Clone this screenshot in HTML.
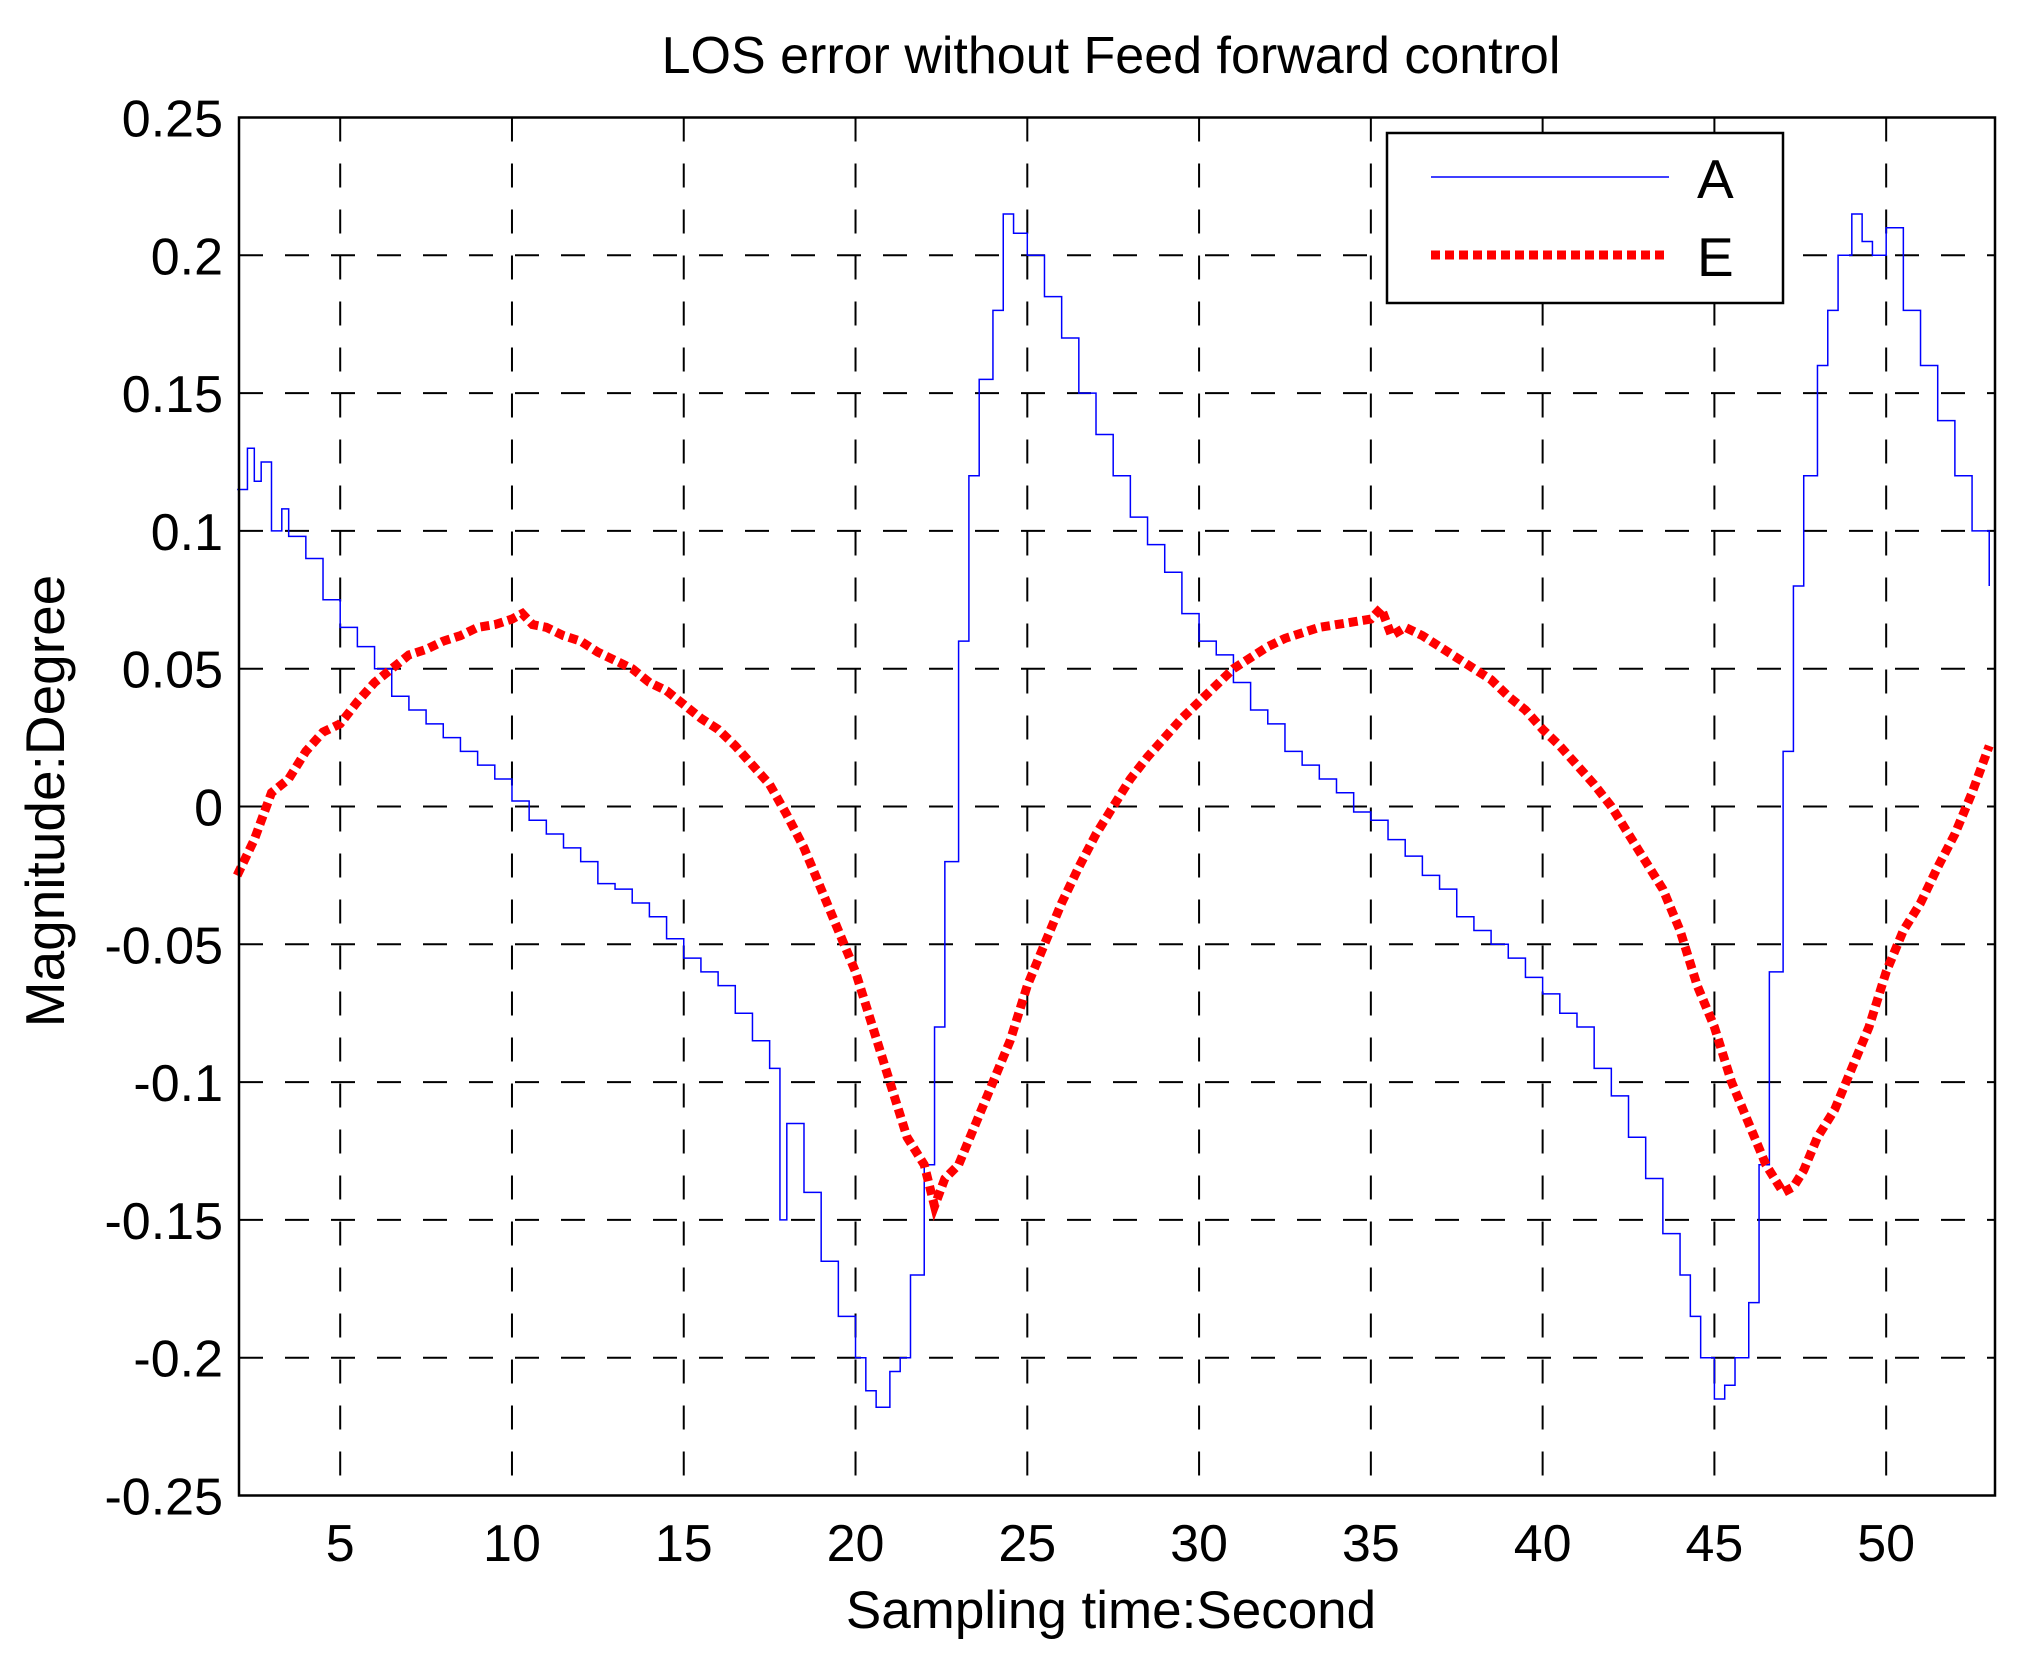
<!DOCTYPE html>
<html><head><meta charset="utf-8">
<style>
html,body{margin:0;padding:0;background:#fff;}
svg{display:block;font-family:"Liberation Sans",sans-serif;}
</style></head>
<body>
<svg id="chart" width="2021" height="1663" viewBox="0 0 2021 1663" xmlns="http://www.w3.org/2000/svg">
<rect x="0" y="0" width="2021" height="1663" fill="#fff"/>
<g id="grid"></g>
<g id="series"></g>
<rect x="239" y="117.5" width="1756" height="1378" fill="none" stroke="#000" stroke-width="2.5"/>
<g id="ticks"></g>
<text x="1111" y="73" font-size="52" text-anchor="middle">LOS error without Feed forward control</text>
<text x="1111" y="1628" font-size="53" text-anchor="middle">Sampling time:Second</text>
<text x="0" y="0" font-size="55" text-anchor="middle" transform="translate(64,801) rotate(-90)">Magnitude:Degree</text>
<g>
<rect x="1387" y="133" width="396" height="170" fill="#fff" stroke="#000" stroke-width="2.5"/>
<line x1="1431" y1="177" x2="1669" y2="177" stroke="#0000ff" stroke-width="1.5"/>
<text x="1697" y="198" font-size="55">A</text>
<line x1="1431" y1="255" x2="1669" y2="255" stroke="#ff0000" stroke-width="9" stroke-dasharray="9 5"/>
<text x="1697" y="276" font-size="55">E</text>
</g>
</svg>
<script>
const xTicks=[5,10,15,20,25,30,35,40,45,50];
const yTicks=[0.25,0.2,0.15,0.1,0.05,0,-0.05,-0.1,-0.15,-0.2,-0.25];
const yTickLabels=["0.25","0.2","0.15","0.1","0.05","0","-0.05","-0.1","-0.15","-0.2","-0.25"];
const seriesAx=[2,2.3,2.5,2.7,3,3.3,3.5,4,4.5,5,5.5,6,6.5,7,7.5,8,8.5,9,9.5,10,10.5,11,11.5,12,12.5,13,13.5,14,14.5,15,15.5,16,16.5,17,17.5,17.8,18,18.5,19,19.5,20,20.3,20.6,21,21.3,21.6,22,22.3,22.6,23,23.3,23.6,24,24.3,24.6,25,25.5,26,26.5,27,27.5,28,28.5,29,29.5,30,30.5,31,31.5,32,32.5,33,33.5,34,34.5,35,35.5,36,36.5,37,37.5,38,38.5,39,39.5,40,40.5,41,41.5,42,42.5,43,43.5,44,44.3,44.6,45,45.3,45.6,46,46.3,46.6,47,47.3,47.6,48,48.3,48.6,49,49.3,49.6,50,50.5,51,51.5,52,52.5,53];
const seriesA=[0.115,0.13,0.118,0.125,0.1,0.108,0.098,0.09,0.075,0.065,0.058,0.05,0.04,0.035,0.03,0.025,0.02,0.015,0.01,0.002,-0.005,-0.01,-0.015,-0.02,-0.028,-0.03,-0.035,-0.04,-0.048,-0.055,-0.06,-0.065,-0.075,-0.085,-0.095,-0.15,-0.115,-0.14,-0.165,-0.185,-0.2,-0.212,-0.218,-0.205,-0.2,-0.17,-0.13,-0.08,-0.02,0.06,0.12,0.155,0.18,0.215,0.208,0.2,0.185,0.17,0.15,0.135,0.12,0.105,0.095,0.085,0.07,0.06,0.055,0.045,0.035,0.03,0.02,0.015,0.01,0.005,-0.002,-0.005,-0.012,-0.018,-0.025,-0.03,-0.04,-0.045,-0.05,-0.055,-0.062,-0.068,-0.075,-0.08,-0.095,-0.105,-0.12,-0.135,-0.155,-0.17,-0.185,-0.2,-0.215,-0.21,-0.2,-0.18,-0.13,-0.06,0.02,0.08,0.12,0.16,0.18,0.2,0.215,0.205,0.2,0.21,0.18,0.16,0.14,0.12,0.1,0.08];
const seriesEx=[2,2.5,3,3.5,4,4.5,5,5.5,6,6.5,7,7.5,8,8.5,9,9.5,10,10.3,10.6,11,11.5,12,12.5,13,13.5,14,14.5,15,15.5,16,16.5,17,17.5,18,18.5,19,19.5,20,20.5,21,21.5,22,22.3,22.6,23,23.5,24,24.5,25,25.5,26,26.5,27,27.5,28,28.5,29,29.5,30,30.5,31,31.5,32,32.5,33,33.5,34,34.5,35,35.3,35.6,36,36.5,37,37.5,38,38.5,39,39.5,40,40.5,41,41.5,42,42.5,43,43.5,44,44.5,45,45.5,46,46.5,47,47.3,47.6,48,48.5,49,49.5,50,50.5,51,51.5,52,52.5,53];
const seriesE=[-0.025,-0.012,0.005,0.01,0.02,0.027,0.03,0.038,0.045,0.05,0.055,0.057,0.06,0.062,0.065,0.066,0.068,0.07,0.066,0.065,0.062,0.06,0.056,0.053,0.05,0.045,0.042,0.037,0.032,0.028,0.022,0.015,0.008,-0.003,-0.015,-0.03,-0.045,-0.06,-0.08,-0.1,-0.12,-0.13,-0.145,-0.135,-0.13,-0.115,-0.1,-0.085,-0.065,-0.05,-0.035,-0.022,-0.01,0.0,0.01,0.018,0.025,0.032,0.038,0.044,0.05,0.054,0.058,0.061,0.063,0.065,0.066,0.067,0.068,0.072,0.062,0.065,0.062,0.058,0.054,0.05,0.046,0.04,0.035,0.028,0.022,0.015,0.008,0.0,-0.01,-0.02,-0.03,-0.045,-0.065,-0.08,-0.1,-0.115,-0.13,-0.14,-0.138,-0.132,-0.12,-0.11,-0.095,-0.08,-0.06,-0.045,-0.035,-0.022,-0.01,0.005,0.022];

const NS="http://www.w3.org/2000/svg";
function xs(v){return 340.2+(v-5)*(1027.3-340.2)/20;}
function ys(v){return 117.5+(0.25-v)*(1495.5-117.5)/0.5;}
const grid=document.getElementById('grid');
const ticks=document.getElementById('ticks');
xTicks.forEach(function(t){
  const l=document.createElementNS(NS,'line');
  
  
  l.setAttribute('x1',xs(t));l.setAttribute('x2',xs(t));
  l.setAttribute('y1',117.5);l.setAttribute('y2',1495.5);
  l.setAttribute('stroke','#000');l.setAttribute('stroke-width','2');
  l.setAttribute('stroke-dasharray','24 22');
  grid.appendChild(l);
  const tx=document.createElementNS(NS,'text');
  
  
  tx.setAttribute('x',xs(t));tx.setAttribute('y',1561);
  tx.setAttribute('font-size','52');tx.setAttribute('text-anchor','middle');
  tx.textContent=String(t);
  ticks.appendChild(tx);
});
yTicks.forEach(function(t,i){
  if(i>0&&i<yTicks.length-1){
    const l=document.createElementNS(NS,'line');
    
    
    l.setAttribute('x1',239);l.setAttribute('x2',1995);
    l.setAttribute('y1',ys(t));l.setAttribute('y2',ys(t));
    l.setAttribute('stroke','#000');l.setAttribute('stroke-width','2');
    l.setAttribute('stroke-dasharray','24 22');
    grid.appendChild(l);
  }
  const tx=document.createElementNS(NS,'text');
  
  
  tx.setAttribute('x',223);tx.setAttribute('y',ys(t)+19);
  tx.setAttribute('font-size','52');tx.setAttribute('text-anchor','end');
  tx.textContent=yTickLabels[i];
  ticks.appendChild(tx);
});
const g=document.getElementById('series');
let dA='';
seriesAx.forEach(function(x,i){
  if(i===0){dA+='M'+xs(x)+' '+ys(seriesA[i]);}
  else{dA+=' H'+xs(x)+' V'+ys(seriesA[i]);}
});
const pA=document.createElementNS(NS,'path');


pA.setAttribute('d',dA);pA.setAttribute('fill','none');
pA.setAttribute('stroke','#0000ff');pA.setAttribute('stroke-width','1.5');
g.appendChild(pA);
let dE='';
seriesEx.forEach(function(x,i){dE+=(i?' L':'M')+xs(x)+' '+ys(seriesE[i]);});
const pE=document.createElementNS(NS,'path');


pE.setAttribute('d',dE);pE.setAttribute('fill','none');
pE.setAttribute('stroke','#ff0000');pE.setAttribute('stroke-width','9');
pE.setAttribute('stroke-dasharray','9 5');
g.appendChild(pE);
</script>
</body></html>
